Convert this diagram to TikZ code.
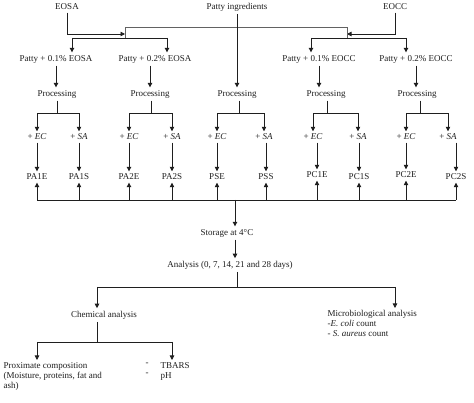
\documentclass[tikz,border=0pt]{standalone}
\usepackage{fontspec}
\setmainfont{Liberation Serif}
\usetikzlibrary{arrows.meta}
\definecolor{ink}{rgb}{0.12,0.12,0.12}
\begin{document}
\begin{tikzpicture}[x=1pt,y=-1pt,
  txt/.style={inner sep=2.5pt,font=\fontsize{9}{10}\selectfont,text=ink},
  ln/.style={draw=ink,line width=0.8pt},
  thin/.style={draw=ink!70,line width=0.55pt},
  arr/.style={ln,-{Triangle[length=4.5pt,width=4.5pt]}}]
\useasboundingbox[fill=white] (0,0) rectangle (474,403);
% top sources
\node[txt] (eosa) at (67,7) {EOSA};
\node[txt] (ing) at (237,7) {Patty ingredients};
\node[txt] (eocc) at (395,7) {EOCC};
% patty mixes
\node[txt] (p1) at (56,59) {Patty + 0.1\% EOSA};
\node[txt] (p2) at (155,59) {Patty + 0.2\% EOSA};
\node[txt] (p3) at (319,59) {Patty + 0.1\% EOCC};
\node[txt] (p4) at (416,59) {Patty + 0.2\% EOCC};
% processing
\node[txt] (pr1) at (57,94) {Processing};
\node[txt] (pr2) at (150,94) {Processing};
\node[txt] (pr3) at (237,94) {Processing};
\node[txt] (pr4) at (326,94) {Processing};
\node[txt] (pr5) at (417,94) {Processing};
% inoculation
\node[txt] (l1) at (37,137) {+ \textit{EC}};
\node[txt] (l2) at (79,137) {+ \textit{SA}};
\node[txt] (l3) at (129,137) {+ \textit{EC}};
\node[txt] (l4) at (172,137) {+ \textit{SA}};
\node[txt] (l5) at (217,137) {+ \textit{EC}};
\node[txt] (l6) at (264,137) {+ \textit{SA}};
\node[txt] (l7) at (313,137) {+ \textit{EC}};
\node[txt] (l8) at (358,137) {+ \textit{SA}};
\node[txt] (l9) at (406,137) {+ \textit{EC}};
\node[txt] (l10) at (448,137) {+ \textit{SA}};
% products
\node[txt] (q1) at (37,177) {PA1E};
\node[txt] (q2) at (79,177) {PA1S};
\node[txt] (q3) at (129,177) {PA2E};
\node[txt] (q4) at (172,177) {PA2S};
\node[txt] (q5) at (217,177) {PSE};
\node[txt] (q6) at (266,177) {PSS};
\node[txt] (q7) at (317,175) {PC1E};
\node[txt] (q8) at (359,177) {PC1S};
\node[txt] (q9) at (406,175) {PC2E};
\node[txt] (q10) at (456,177) {PC2S};
% storage and analysis
\node[txt] (sto) at (227,233) {Storage at 4\textdegree C};
\node[txt] (ana) at (230,265) {Analysis (0, 7, 14, 21 and 28 days)};
\node[txt] (chem) at (104,315) {Chemical analysis};
\node[txt,anchor=north west,align=left] (micro) at (325,308) {Microbiological analysis\\-\textit{E. coli} count\\- \textit{S. aureus} count};
\node[txt,anchor=north west,align=left] (prox) at (1,360) {Proximate composition\\(Moisture, proteins, fat and\\ash)};
\node[txt,anchor=north,align=center] (dash) at (147,360) {-\\-};
\node[txt,anchor=north west,align=left] (tb) at (158,360) {TBARS\\pH};
% junction coordinates
\coordinate (ja) at (125,34);
\coordinate (jb) at (347,34);
\coordinate (ta) at (125,27);
\coordinate (tb2) at (347,27);
\coordinate (ha) at (125,38);
\coordinate (hb) at (347,38);
\coordinate (ha1) at (72,38);
\coordinate (ha2) at (167,38);
\coordinate (hb1) at (311,38);
\coordinate (hb2) at (406,38);
% top connectors
\draw[arr] (eosa.south) |- (ja);
\draw[arr] (eocc.south) |- (jb);
\draw[thin] (ha) -- (ta) -- (tb2) -- (hb);
\draw[ln] (ha1) -- (ha2);
\draw[ln] (hb1) -- (hb2);
\draw[arr] (ha1) -- (ha1 |- p1.north);
\draw[arr] (ha2) -- (ha2 |- p2.north);
\draw[arr] (hb1) -- (hb1 |- p3.north);
\draw[arr] (hb2) -- (hb2 |- p4.north);
\draw[arr] (ing.south) -- (pr3.north);
\draw[arr] (p1.south) -- (p1.south |- pr1.north);
\draw[arr] (pr2.north |- p2.south) -- (pr2.north);
\draw[arr] (p3.south) -- (p3.south |- pr4.north);
\draw[arr] (p4.south) -- (p4.south |- pr5.north);
% processing splits
\coordinate (s1) at (57,113);
\coordinate (s2) at (151,113);
\coordinate (s3) at (239,113);
\coordinate (s4) at (327,113);
\coordinate (s5) at (420,113);
\draw[ln] (pr1.south) -- (s1);
\draw[ln] (pr2.south -| s2) -- (s2);
\draw[ln] (pr3.south -| s3) -- (s3);
\draw[ln] (pr4.south -| s4) -- (s4);
\draw[ln] (pr5.south -| s5) -- (s5);
\draw[arr] (s1) -| (l1.north);
\draw[arr] (s1) -| (l2.north);
\draw[arr] (s2) -| (l3.north);
\draw[arr] (s2) -| (l4.north);
\draw[arr] (s3) -| (l5.north);
\draw[arr] (s3) -| (l6.north);
\draw[arr] (s4) -| (l7.north);
\draw[arr] (s4) -| (l8.north);
\draw[arr] (s5) -| (l9.north);
\draw[arr] (s5) -| (l10.north);
% inoculation to products
\foreach \i in {1,...,10}{
  \draw[arr] (l\i.south -| q\i) -- (q\i.north);
}
% collecting line
\coordinate (b) at (235,200);
\draw[ln] (q1.south |- b) -- (q10.south |- b);
\foreach \i in {1,...,10}{
  \draw[arr] (q\i.south |- b) -- (q\i.south);
}
\draw[arr] (b) -- (b |- sto.north);
\draw[arr] (b |- sto.south) -- (b |- ana.north);
% analysis split
\coordinate (a0) at (237,287);
\coordinate (a1) at (97,287);
\coordinate (a2) at (395,287);
\draw[ln] (a0 |- ana.south) -- (a0);
\draw[ln] (a1) -- (a2);
\draw[arr] (a1) -- (a1 |- chem.north);
\draw[arr] (a2) -- (a2 |- micro.north);
% chemical split
\coordinate (c0) at (97,342);
\coordinate (c1) at (37,342);
\coordinate (c2) at (172,342);
\draw[ln] (c0 |- chem.south) -- (c0);
\draw[ln] (c1) -- (c2);
\draw[arr] (c1) -- (c1 |- prox.north);
\draw[arr] (c2) -- (c2 |- tb.north);
\end{tikzpicture}
\end{document}
